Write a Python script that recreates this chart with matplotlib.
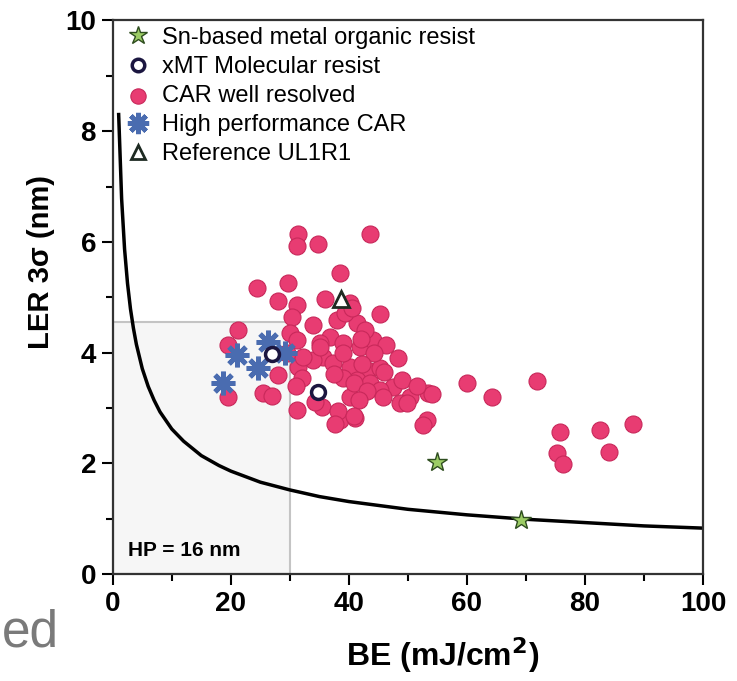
import numpy as np
import matplotlib.pyplot as plt
from matplotlib.patches import Rectangle

# Data
# CAR well resolved (pink dots)
car_be = [31.4, 31.2, 34.7, 43.6, 38.5, 24.4, 29.7, 28.0, 31.2, 35.9,
          40.2, 45.3, 30.3, 33.9, 38.0, 41.4, 30.0, 21.2, 19.5, 36.8,
          39.0, 41.9, 44.1, 31.2, 35.1, 35.6, 48.3, 33.9, 37.3, 40.2,
          43.1, 45.3, 31.4, 32.0, 41.4, 43.6, 47.5, 45.3, 40.2, 50.3,
          53.4, 48.6, 35.4, 38.5, 41.0, 53.2, 25.4, 26.9, 19.5, 31.2,
          60.0, 64.2, 71.9, 54.1, 75.8, 75.3, 76.3, 82.5, 84.1, 88.1,
          49.8, 46.3, 42.7, 39.4, 40.5, 35.1, 32.3, 39.0, 42.0, 44.2,
          46.0, 42.2, 39.0, 37.4, 40.8, 43.1, 45.8, 49.0, 51.6, 41.7,
          38.1, 40.8, 52.5, 37.6, 29.5, 28.0, 31.0, 34.3]
car_ler = [6.15, 5.93, 5.97, 6.15, 5.44, 5.17, 5.26, 4.94, 4.86, 4.97,
           4.90, 4.70, 4.65, 4.50, 4.59, 4.54, 4.36, 4.41, 4.14, 4.29,
           4.18, 4.10, 4.23, 4.23, 4.18, 3.92, 3.91, 3.87, 3.82, 3.74,
           3.69, 3.73, 3.74, 3.54, 3.51, 3.45, 3.38, 3.33, 3.20, 3.20,
           3.27, 3.09, 3.02, 2.78, 2.82, 2.78, 3.27, 3.22, 3.20, 2.97,
           3.45, 3.20, 3.49, 3.25, 2.57, 2.19, 1.99, 2.60, 2.21, 2.71,
           3.09, 4.14, 4.41, 4.72, 4.80, 4.10, 3.92, 4.00, 4.25, 4.00,
           3.65, 3.80, 3.55, 3.62, 3.45, 3.30, 3.20, 3.50, 3.40, 3.15,
           2.95, 2.85, 2.70, 2.71, 4.00, 3.60, 3.40, 3.10]

# Sn-based metal organic resist
sn_be = [55.0, 69.2]
sn_ler = [2.02, 0.98]

# xMT molecular resist
xmt_be = [27.0, 34.7]
xmt_ler = [3.97, 3.28]

# High performance CAR
hp_be = [21.0, 26.3, 24.6, 29.2, 18.6]
hp_ler = [3.96, 4.20, 3.73, 4.00, 3.45]

# Reference UL1R1
ref_be = [38.6]
ref_ler = [4.97]

# limit curve
curve_be = [1, 1.5, 2, 2.5, 3, 3.5, 4, 5, 6, 7, 8, 10, 12, 15, 18, 20,
            25, 30, 35, 40, 50, 60, 70, 80, 90, 100]
curve_ler = [8.30, 6.78, 5.87, 5.25, 4.79, 4.44, 4.15, 3.71, 3.39, 3.14,
             2.93, 2.62, 2.40, 2.14, 1.96, 1.86, 1.66, 1.52, 1.40, 1.31,
             1.17, 1.07, 0.99, 0.93, 0.87, 0.83]

# HP = 16 nm target box
box_be = 30
box_ler = 4.55

plt.rcParams['font.family'] = ['Liberation Sans', 'DejaVu Sans']

fig = plt.figure(figsize=(7.37, 6.81), dpi=100)
ax = fig.add_axes([0.153, 0.157, 0.801, 0.813])

ax.add_patch(Rectangle((0, 0), box_be, box_ler, facecolor='#f6f6f6',
                       edgecolor='#c4c4c4', linewidth=1.5, zorder=0))

ax.plot(curve_be, curve_ler, color='black', lw=2.5, zorder=2)

ax.scatter(car_be, car_ler, s=150, color='#e83c72', edgecolor='#c8285a',
           linewidth=0.8, zorder=3, label='CAR well resolved')
ax.plot(sn_be, sn_ler, ls='none', marker='*', ms=15, mfc='#9ccc65',
        mec='#2e4d1f', mew=1.0, zorder=5, label='Sn-based metal organic resist')
ax.plot(xmt_be, xmt_ler, ls='none', marker='o', ms=10, mfc='white',
        mec='#1b1640', mew=2.5, zorder=6, label='xMT Molecular resist')
ax.plot(hp_be, hp_ler, ls='none', marker=(8, 2, 0), ms=17, mec='#4a6cb0',
        mew=3.5, zorder=5, label='High performance CAR')
ax.plot(ref_be, ref_ler, ls='none', marker='^', ms=11, mfc='white',
        mec='#1e2a22', mew=2.0, zorder=6, label='Reference UL1R1')

ax.text(2.5, 0.33, 'HP = 16 nm', fontsize=15, fontweight='bold')

ax.set_xlim(0, 100)
ax.set_ylim(0, 10)
ax.set_xticks(np.arange(0, 101, 20))
ax.set_xticks(np.arange(10, 100, 20), minor=True)
ax.set_yticks(np.arange(0, 11, 2))
ax.set_yticks(np.arange(1, 10, 2), minor=True)
ax.tick_params(which='major', length=8, width=1.5, pad=4)
ax.tick_params(which='minor', length=5, width=1.5)
for lab in ax.get_xticklabels() + ax.get_yticklabels():
    lab.set_fontweight('bold')
    lab.set_fontsize(20)
for sp in ax.spines.values():
    sp.set_linewidth(1.6)
    sp.set_color('#333333')

ax.set_xlabel('BE (mJ/cm$^\\mathbf{2}$)', fontsize=23, fontweight='bold')
ax.set_ylabel('LER 3σ (nm)', fontsize=21, fontweight='bold')
ax.xaxis.set_label_coords(0.558, -0.11)
ax.yaxis.set_label_coords(-0.098, 0.564)

handles, labels = ax.get_legend_handles_labels()
order = [1, 2, 0, 3, 4]
ax.legend([handles[i] for i in order], [labels[i] for i in order],
          loc='upper left', bbox_to_anchor=(0.012, 0.995), frameon=False,
          fontsize=17, handletextpad=0.45, borderaxespad=0.0,
          labelspacing=0.3, handlelength=1.2, borderpad=0.15,
          markerscale=0.9)

fig.text(0.003, 0.05, 'ed', fontsize=37, color='#7a7a7a')

fig.savefig('out.png', dpi=100)
